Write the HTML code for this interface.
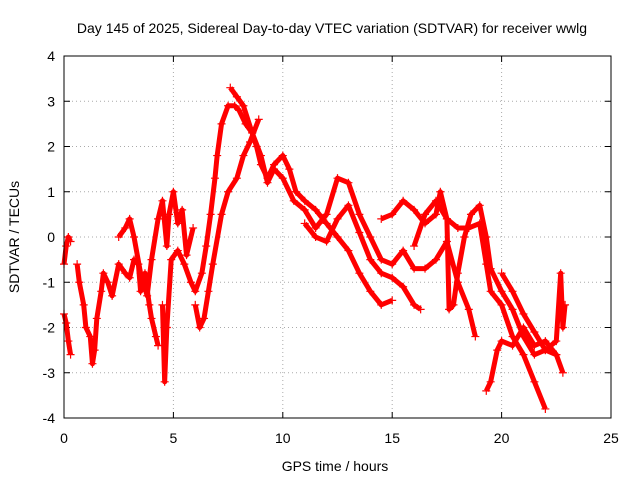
<!DOCTYPE html>
<html><head><meta charset="utf-8"><style>
body{margin:0;background:#fff}
svg text{font-family:"Liberation Sans",sans-serif;font-size:14px;fill:#000}
</style></head><body>
<svg id="chart" width="640" height="480">
<text x="332" y="33" text-anchor="middle">Day 145 of 2025, Sidereal Day-to-day VTEC variation (SDTVAR) for receiver wwlg</text>
<text x="335" y="471" text-anchor="middle">GPS time / hours</text>
<text transform="translate(19,237) rotate(-90)" text-anchor="middle">SDTVAR / TECUs</text>
<g id="grid"></g><g id="marks"></g>
<rect x="64" y="56" width="547" height="362" fill="none" stroke="#000"/>
</svg>
<script>
const xTicks=[0,5,10,15,20,25];
const yTicks=[-4,-3,-2,-1,0,1,2,3,4];
const track1=[[0,-0.6],[0.1,-0.2],[0.2,0],[0.3,-0.1]];
const track2=[[0,-1.7],[0.1,-1.9],[0.2,-2.3],[0.3,-2.6]];
const track3=[[0.6,-0.6],[0.7,-1],[0.9,-1.5],[1.0,-2],[1.2,-2.2],[1.3,-2.8],[1.4,-2.5],[1.5,-1.8],[1.7,-1.2],[1.8,-0.8],[2.0,-1.0],[2.2,-1.3],[2.5,-0.6],[2.8,-0.8],[3.0,-0.9],[3.2,-0.5],[3.4,-0.6],[3.5,-1.2],[3.7,-0.8],[3.9,-1.5],[4.0,-1.8],[4.2,-2.2],[4.3,-2.4]];
const track4=[[2.5,0],[2.8,0.2],[3.0,0.4],[3.2,0],[3.5,-0.8],[3.8,-1.3],[4.0,-0.5],[4.3,0.4],[4.5,0.8],[4.7,-0.2],[4.8,0.5],[5.0,1.0],[5.2,0.3],[5.4,0.6],[5.6,-0.4],[5.9,0.2]];
const track5=[[4.5,-1.5],[4.6,-3.2],[4.7,-2],[4.9,-0.5],[5.2,-0.3],[5.5,-0.6],[5.8,-1.0],[6.0,-1.2],[6.3,-0.8],[6.5,-0.2],[6.7,0.5],[6.9,1.3],[7.0,1.8],[7.2,2.5],[7.5,2.9],[7.8,2.9],[8.0,2.8],[8.3,2.5],[8.6,2.3],[8.8,2.0],[9.0,1.6],[9.3,1.3],[9.6,1.6],[10.0,1.8],[10.3,1.5],[10.6,1.0],[11,0.8],[11.5,0.6],[12,0.3],[12.5,0.0],[13,-0.3],[13.5,-0.8],[14,-1.2],[14.5,-1.5],[15,-1.4]];
const track6=[[6.0,-1.5],[6.2,-2.0],[6.4,-1.8],[6.6,-1.2],[6.8,-0.6],[7.2,0.5],[7.5,1.0],[7.9,1.3],[8.2,1.8],[8.5,2.1],[8.9,2.6]];
const track7=[[7.6,3.3],[7.9,3.1],[8.2,2.9],[8.6,2.3],[9.0,1.8],[9.3,1.2],[9.6,1.5],[10,1.3],[10.5,0.8],[11,0.6],[11.5,0.2],[12,0.5],[12.5,1.3],[13,1.2],[13.5,0.5],[14,0.0],[14.5,-0.5],[15,-0.6],[15.5,-0.3],[16,-0.7],[16.5,-0.7],[17,-0.5],[17.5,-0.1],[18,-1.0],[18.5,-1.6],[18.8,-2.2]];
const track8=[[11,0.3],[11.5,0],[12,-0.1],[12.5,0.4],[13,0.7],[13.5,0.1],[14,-0.5],[14.5,-0.8],[15,-0.9],[15.5,-1.1],[16,-1.5],[16.3,-1.6]];
const track9=[[14.5,0.4],[15,0.5],[15.5,0.8],[16,0.6],[16.5,0.3],[17,0.5],[17.2,1.0],[17.5,0.4],[18,0.2],[18.5,0.2],[19,0.3],[19.3,-0.6],[19.5,-1.2],[20,-1.5],[20.5,-2.2],[21,-2.6],[21.5,-3.2],[22,-3.8]];
const track10=[[16,-0.2],[16.5,0.5],[17,0.8],[17.5,0.4],[17.6,-1.6],[17.8,-1.5],[18,-0.8],[18.3,0.0],[18.6,0.5],[19,0.7],[19.3,0],[19.5,-0.7],[20,-1.2],[20.5,-1.6],[21,-2.2],[21.5,-2.6],[22,-2.5],[22.5,-2.6]];
const track11=[[19.3,-3.4],[19.5,-3.2],[19.8,-2.5],[20,-2.3],[20.5,-2.4],[21,-2.0],[21.5,-2.4],[22,-2.3],[22.5,-2.6],[22.8,-3.0]];
const track12=[[20,-0.8],[20.5,-1.2],[21,-1.7],[21.5,-2.1],[22,-2.5],[22.5,-2.3],[22.7,-0.8],[22.8,-2.0],[22.9,-1.5]];
const tracks=[track1,track2,track3,track4,track5,track6,track7,track8,track9,track10,track11,track12];
const X=v=>64+v*(547/25), Y=v=>237-v*(362/8);
const NS="http://www.w3.org/2000/svg";
const grid=document.getElementById('grid'), marks=document.getElementById('marks');
function mk(t,a,p){const e=document.createElementNS(NS,t);for(const k in a)e.setAttribute(k,a[k]);p.appendChild(e);return e;}
xTicks.forEach(v=>{
 if(v>0&&v<25){const g=mk('line',{x1:X(v),x2:X(v),y1:56,y2:418,stroke:'#aaa','stroke-dasharray':'1,3'},grid);
 
 }
 mk('line',{x1:X(v),x2:X(v),y1:418,y2:412,stroke:'#000'},grid);
 mk('line',{x1:X(v),x2:X(v),y1:56,y2:62,stroke:'#000'},grid);
 const t=mk('text',{x:X(v),y:443,'text-anchor':'middle'},grid);t.textContent=v;
 
 
});
yTicks.forEach(v=>{
 if(v>-4&&v<4){const g=mk('line',{x1:64,x2:611,y1:Y(v),y2:Y(v),stroke:'#aaa','stroke-dasharray':'1,3'},grid);
 
 }
 mk('line',{x1:64,x2:70,y1:Y(v),y2:Y(v),stroke:'#000'},grid);
 mk('line',{x1:611,x2:605,y1:Y(v),y2:Y(v),stroke:'#000'},grid);
 const t=mk('text',{x:55,y:Y(v)+5,'text-anchor':'end'},grid);t.textContent=v;
 
 
});
tracks.forEach(tr=>{
 const pl=mk('polyline',{points:tr.map(p=>X(p[0])+','+Y(p[1])).join(' '),fill:'none',stroke:'#f00','stroke-width':5,'stroke-linejoin':'round'},marks);
 
 
 tr.forEach(p=>{
  const x=X(p[0]),y=Y(p[1]);
  const m=mk('path',{d:`M${x-4},${y}H${x+4}M${x},${y-4}V${y+4}`,stroke:'#f00','stroke-width':1.2},marks);
  
  
 });
});
</script>
</body></html>
